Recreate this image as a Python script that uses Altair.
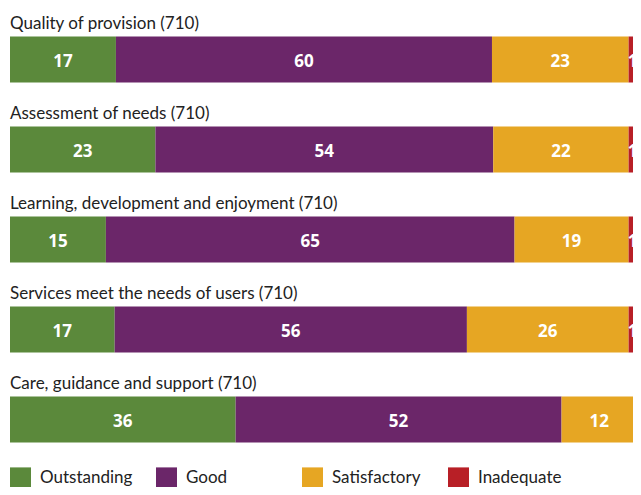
import altair as alt
import pandas as pd

categories = [
    "Quality of provision (710)",
    "Assessment of needs (710)",
    "Learning, development and enjoyment (710)",
    "Services meet the needs of users (710)",
    "Care, guidance and support (710)",
]
series = ["Outstanding", "Good", "Satisfactory", "Inadequate"]
colors = ["#5B893B", "#6B2669", "#E6A623", "#B81F26"]

# bar lengths (percent)
outstanding = [16.9, 23.2, 15.3, 16.7, 36.0]
good = [60.0, 53.9, 65.2, 56.2, 52.0]
satisfactory = [21.8, 21.6, 18.2, 25.8, 12.0]
inadequate = [1.3, 1.3, 1.3, 1.3, 0.0]

# printed labels
outstanding_lbl = ["17", "23", "15", "17", "36"]
good_lbl = ["60", "54", "65", "56", "52"]
satisfactory_lbl = ["23", "22", "19", "26", "12"]
inadequate_lbl = ["1", "1", "1", "1", ""]

rows = []
for s_i, (s, vals, lbls) in enumerate(zip(
        series,
        [outstanding, good, satisfactory, inadequate],
        [outstanding_lbl, good_lbl, satisfactory_lbl, inadequate_lbl])):
    for c, v, l in zip(categories, vals, lbls):
        rows.append({"category": c, "series": s, "order": s_i, "value": v, "label": l})
df = pd.DataFrame(rows)

TITLE_FONT = "Lato"
LABEL_FONT = "Open Sans"

y_enc = alt.Y("category:N", sort=categories, axis=None,
              scale=alt.Scale(paddingInner=0.4892, paddingOuter=0.2446))
x_scale = alt.Scale(domain=[0, 99.4], nice=False, zero=True)

base = alt.Chart(df).transform_stack(
    stack="value", groupby=["category"], as_=["x0", "x1"],
    sort=[alt.SortField("order", order="ascending")]
).transform_calculate(mid="(datum.x0 + datum.x1) / 2")

bars = base.mark_bar(clip=True).encode(
    x=alt.X("x0:Q", axis=None, scale=x_scale),
    x2="x1:Q",
    y=y_enc,
    color=alt.Color("series:N", sort=series,
                    scale=alt.Scale(domain=series, range=colors),
                    legend=alt.Legend(
                        title=None, orient="none", legendX=0, legendY=453,
                        direction="horizontal", columns=4, gridAlign="all",
                        columnPadding=23, symbolType="square", symbolSize=441,
                        symbolStrokeWidth=0, symbolOpacity=1,
                        labelFontSize=17, labelFont=TITLE_FONT, labelColor="#222222",
                        labelOffset=9, padding=0, labelLimit=200)),
)

labels = base.mark_text(font=LABEL_FONT, fontSize=17, fontWeight="bold",
                        color="white", baseline="middle", dy=3).encode(
    x=alt.X("mid:Q", scale=x_scale),
    y=y_enc,
    text="label:N",
)

title_df = pd.DataFrame({"category": categories})
titles = alt.Chart(title_df).mark_text(
    font=TITLE_FONT, fontSize=17, color="#222222", align="left",
    baseline="alphabetic", dy=-30).encode(
    x=alt.value(0),
    y=y_enc,
    text="category:N",
)

chart = alt.layer(bars, labels, titles).properties(
    width=623, height=450,
    autosize=alt.AutoSizeParams(type="none"),
    padding={"top": 6.4, "bottom": 22.6, "left": 2, "right": 0},
).configure_view(stroke=None)

chart.save("out.html", embed_options={"renderer": "svg", "actions": False})
